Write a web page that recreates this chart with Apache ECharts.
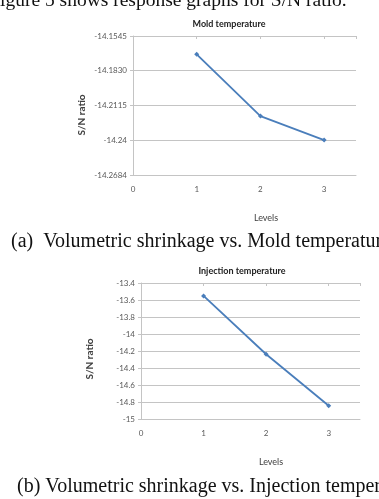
<!DOCTYPE html>
<html>
<head>
<meta charset="utf-8">
<script src="https://cdn.jsdelivr.net/npm/echarts@6/dist/echarts.min.js"></script>
<style>
html, body { margin: 0; padding: 0; background: #fff; overflow: hidden; }
#main { width: 379px; height: 499px; }
</style>
</head>
<body>
<div id="main"></div>
<script>
// levels on the x axis
var levels = [1, 2, 3];
// S/N ratio
var moldSN = [-14.1695, -14.2201, -14.2398];
var injectionSN = [-13.552, -14.238, -14.844];
// tick labels as printed
var moldTicks = ['-14.2684', '-14.24', '-14.2115', '-14.1830', '-14.1545'];
var injectionTicks = ['-15', '-14.8', '-14.6', '-14.4', '-14.2', '-14', '-13.8', '-13.6', '-13.4'];
var levelTicks = ['0', '1', '2', '3'];

function pairs(xs, ys) {
    return xs.map(function (x, i) { return [x, ys[i]]; });
}
// pick the printed label nearest to a tick value
function tickLabel(list, step) {
    return function (v) {
        for (var i = 0; i < list.length; i++) {
            if (Math.abs(Number(list[i]) - v) < step / 3) return list[i];
        }
        return '';
    };
}

var sans = 'Lato, "Open Sans", sans-serif';
var serif = '"Liberation Serif", "DejaVu Serif", serif';
var gridColor = '#c4c4c4';
var labelColor = '#595959';
var lineColor = '#4a7ebb';

var moldStep = (Number(moldTicks[4]) - Number(moldTicks[0])) / 4;

function xAxisPair(gi) {
    return [{
        type: 'value', gridIndex: gi, min: 0, max: 3.5, interval: 1,
        axisLine: { show: true, lineStyle: { color: gridColor } },
        axisTick: { show: false },
        splitLine: { show: false },
        axisLabel: {
            color: labelColor, fontFamily: sans, fontSize: 8, margin: 10,
            formatter: function (v) { return levelTicks.indexOf(String(v)) >= 0 ? String(v) : ''; }
        }
    }, {
        // the little marks under the top border
        type: 'value', gridIndex: gi, position: 'top', min: 0, max: 3.5, interval: 1,
        axisLine: { show: false },
        axisTick: { show: true, inside: true, length: 3, lineStyle: { color: gridColor },
            interval: function (i, v) { return v > 0 && v < 3.5; } },
        axisLabel: { show: false },
        splitLine: { show: false }
    }];
}

var option = {
    animation: false,
    backgroundColor: '#fff',
    grid: [
        { left: 133, top: 36, right: 23, height: 139 },
        { left: 141, top: 283, right: 19, height: 136 }
    ],
    xAxis: xAxisPair(0).concat(xAxisPair(1)),
    yAxis: [{
        type: 'value', gridIndex: 0,
        min: Number(moldTicks[0]), max: Number(moldTicks[4]), interval: moldStep,
        axisLine: { show: true, lineStyle: { color: gridColor } },
        axisTick: { show: true, length: 3, lineStyle: { color: gridColor } },
        splitLine: { lineStyle: { color: gridColor } },
        axisLabel: { color: labelColor, fontFamily: sans, fontSize: 8, margin: 6,
            formatter: tickLabel(moldTicks, moldStep) }
    }, {
        type: 'value', gridIndex: 1, min: -15, max: -13.4, interval: 0.2,
        axisLine: { show: true, lineStyle: { color: gridColor } },
        axisTick: { show: true, length: 3, lineStyle: { color: gridColor } },
        splitLine: { lineStyle: { color: gridColor } },
        axisLabel: { color: labelColor, fontFamily: sans, fontSize: 8, margin: 6,
            formatter: tickLabel(injectionTicks, 0.2) }
    }],
    series: [{
        type: 'line', xAxisIndex: 0, yAxisIndex: 0,
        data: pairs(levels, moldSN),
        symbol: 'diamond', symbolSize: 5,
        lineStyle: { color: lineColor, width: 1.8 },
        itemStyle: { color: lineColor }
    }, {
        type: 'line', xAxisIndex: 2, yAxisIndex: 1,
        data: pairs(levels, injectionSN),
        symbol: 'diamond', symbolSize: 5,
        lineStyle: { color: lineColor, width: 1.8 },
        itemStyle: { color: lineColor }
    }],
    graphic: [
        { type: 'text', x: 0, y: 1, style: { text: 'igure 5 shows response graphs for S/N ratio.',
            font: '19.5px ' + serif, fill: '#111', verticalAlign: 'middle' } },
        { type: 'text', x: 229, y: 24, style: { text: 'Mold temperature', font: 'bold 9px ' + sans,
            fill: '#222', align: 'center', verticalAlign: 'middle' } },
        { type: 'text', x: 82, y: 115, rotation: Math.PI / 2, style: { text: 'S/N ratio',
            font: 'bold 10px ' + sans, fill: '#404040', align: 'center', verticalAlign: 'middle' } },
        { type: 'text', x: 266, y: 218, style: { text: 'Levels', font: '9px ' + sans,
            fill: '#404040', align: 'center', verticalAlign: 'middle' } },
        { type: 'text', x: 11, y: 242, style: { text: '(a)  Volumetric shrinkage vs. Mold temperature',
            font: '20px ' + serif, fill: '#111', verticalAlign: 'middle' } },
        { type: 'text', x: 242, y: 271, style: { text: 'Injection temperature', font: 'bold 9px ' + sans,
            fill: '#222', align: 'center', verticalAlign: 'middle' } },
        { type: 'text', x: 90, y: 359, rotation: Math.PI / 2, style: { text: 'S/N ratio',
            font: 'bold 10px ' + sans, fill: '#404040', align: 'center', verticalAlign: 'middle' } },
        { type: 'text', x: 271, y: 462, style: { text: 'Levels', font: '9px ' + sans,
            fill: '#404040', align: 'center', verticalAlign: 'middle' } },
        { type: 'text', x: 17, y: 487, style: { text: '(b) Volumetric shrinkage vs. Injection temperature',
            font: '20px ' + serif, fill: '#111', verticalAlign: 'middle' } }
    ]
};

var chart = echarts.init(document.getElementById('main'));
chart.setOption(option);
window.onresize = function () { chart.resize(); };
</script>
</body>
</html>
